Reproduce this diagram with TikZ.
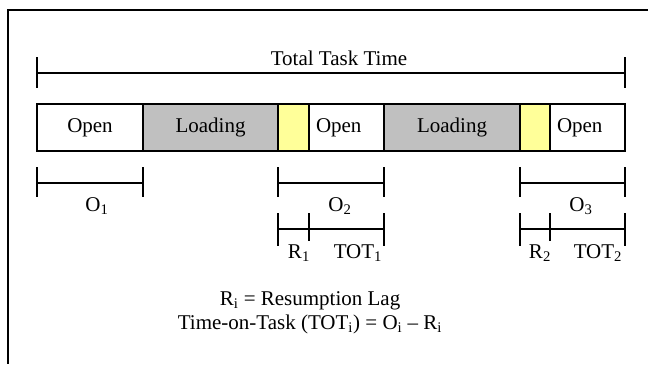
\documentclass[tikz,border=0pt]{standalone}
\usepackage{fontspec}
\setmainfont{Liberation Serif}
\usepackage{tikz}
\definecolor{loadgray}{RGB}{192,192,192}
\definecolor{lagyellow}{RGB}{255,255,153}

\begin{document}
\begin{tikzpicture}[x=0.75pt,y=-0.75pt,
    every node/.style={font=\fontsize{15.75}{18}\selectfont},
    seg/.style={draw, line width=1.5pt, outer sep=0pt, inner sep=0pt,
        minimum height=35.25pt, anchor=west},
    openseg/.style={seg, fill=white},
    openleft/.style={seg, fill=white, align=left, text width=#1, inner xsep=5.25pt},
    loadseg/.style={seg, fill=loadgray},
    lagseg/.style={seg, fill=lagyellow},
    tick/.style={line width=1.1pt},
    lbl/.style={anchor=base, inner sep=0pt}]
    \useasboundingbox (0,0) rectangle (648,364);

    % frame
    \draw[line width=1.5pt] (648,10) -- (8,10) -- (8,364);

    % total task time
    \draw[tick] (37,73) -- (625,73);
    \draw[tick] (37,57) -- + (0,31);
    \draw[tick] (625,57) -- + (0,31);
    \node[lbl] (total) at (339,65) {Total Task Time};

    % task bar
    \node[openseg, minimum width=79.5pt] (open1) at (37,127.5) {Open};
    \node[loadseg, minimum width=101.25pt] (load1) at (143,127.5) {Loading};
    \node[lagseg, minimum width=23.25pt] (lag1) at (278,127.5) {};
    \node[openleft=45.75pt] (open2) at (309,127.5) {Open};
    \node[loadseg, minimum width=102pt] (load2) at (384,127.5) {Loading};
    \node[lagseg, minimum width=22.5pt] (lag2) at (520,127.5) {};
    \node[openleft=45.75pt] (open3) at (550,127.5) {Open};

    % open intervals
    \draw[tick] (37,183) -- (143,183);
    \draw[tick] (37,167) -- + (0,30);
    \draw[tick] (143,167) -- + (0,30);
    \node[lbl] (o1) at (97,211) {O\textsubscript{1}};

    \draw[tick] (278,183) -- (384,183);
    \draw[tick] (278,167) -- + (0,30);
    \draw[tick] (384,167) -- + (0,30);
    \node[lbl] (o2) at (340,211) {O\textsubscript{2}};

    \draw[tick] (520,183) -- (625,183);
    \draw[tick] (520,167) -- + (0,30);
    \draw[tick] (625,167) -- + (0,30);
    \node[lbl] (o3) at (581,211) {O\textsubscript{3}};

    % resumption lag and time on task
    \draw[tick] (278,229) -- (384,229);
    \draw[tick] (278,213) -- + (0,33);
    \draw[line width=1.8pt] (309,213) -- + (0,28);
    \draw[tick] (384,213) -- + (0,33);
    \node[lbl] (r1) at (299,258) {R\textsubscript{1}};
    \node[lbl] (tot1) at (358,258) {TOT\textsubscript{1}};

    \draw[tick] (520,229) -- (625,229);
    \draw[tick] (520,213) -- + (0,33);
    \draw[line width=1.8pt] (550,213) -- + (0,28);
    \draw[tick] (625,213) -- + (0,33);
    \node[lbl] (r2) at (540,258) {R\textsubscript{2}};
    \node[lbl] (tot2) at (598,258) {TOT\textsubscript{2}};

    % legend
    \node[lbl] (lagdef) at (310,305) {R\textsubscript{i} = Resumption Lag};
    \node[lbl] (totdef) at (310,329) {Time-on-Task (TOT\textsubscript{i}) = O\textsubscript{i} – R\textsubscript{i}};
\end{tikzpicture}
\end{document}
